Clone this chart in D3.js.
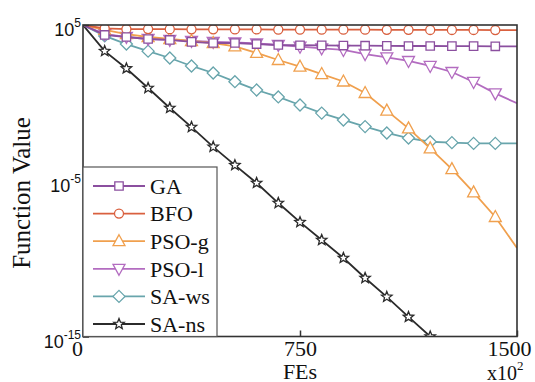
<!DOCTYPE html>
<html>
<head>
<meta charset="utf-8">
<script src="https://cdn.jsdelivr.net/npm/d3@7"></script>
<style>
  body { margin: 0; background: #fff; }
  svg { display: block; }
  .serif { font-family: "Liberation Serif", "Times New Roman", serif; }
  .sans { font-family: "Liberation Sans", Arial, sans-serif; }
</style>
</head>
<body>
<svg id="chart"></svg>
<script>
// FEs (x10^2), one sample every 75
const fes = [0, 75, 150, 225, 300, 375, 450, 525, 600, 675, 750, 825, 900, 975, 1050, 1125, 1200, 1275, 1350, 1425, 1500];

const gaVals = [1e5, 2.3e4, 1.7e4, 1.26e4, 1.1e4, 8.2e3, 7e3, 7e3, 6e3, 5.2e3, 5e3, 4.9e3, 4.8e3, 4.7e3, 4.6e3, 4.5e3, 4.5e3, 4.4e3, 4.4e3, 4.3e3, 4.3e3];
const bfoVals = [1e5, 6e4, 5.5e4, 5.5e4, 5.4e4, 5.3e4, 5.3e4, 5.2e4, 5.2e4, 5.1e4, 5.1e4, 5e4, 5e4, 5e4, 4.9e4, 4.9e4, 4.8e4, 4.8e4, 4.8e4, 4.7e4, 4.7e4];
const psogVals = [1e5, 4.8e4, 2.6e4, 1.7e4, 1.26e4, 9.4e3, 7e3, 4.2e3, 1.6e3, 565, 210, 71, 23.5, 4.3, 0.32, 0.023, 1.2e-3, 5.6e-5, 1.8e-6, 4.7e-8, 4.8e-10];
const psolVals = [1e5, 2.6e4, 1.7e4, 1.26e4, 1.1e4, 9.4e3, 8.2e3, 7.5e3, 6.5e3, 5.2e3, 4.05e3, 3.2e3, 2.5e3, 1.37e3, 840, 490, 234, 96, 22, 4.1, 0.94];
const saWsVals = [1e5, 2e4, 6e3, 2.1e3, 760, 234, 83, 23, 6.7, 2.4, 0.73, 0.22, 0.08, 0.03, 0.0117, 5.5e-3, 3.2e-3, 2.8e-3, 2.5e-3, 2.5e-3, 2.5e-3];
const saNsVals = [1e5, 2.1e3, 162, 9, 0.47, 0.028, 1.5e-3, 1e-4, 7.2e-6, 3.7e-7, 2.2e-8, 1.56e-9, 1.1e-10, 5.7e-12, 3.5e-13, 1.8e-14, 1e-15];

const seriesNames = ['GA', 'BFO', 'PSO-g', 'PSO-l', 'SA-ws', 'SA-ns'];
const xTicks = [0, 750, 1500];
const yTicks = [1e5, 1e-5, 1e-15];

const series = [
  { name: seriesNames[0], vals: gaVals, color: '#8b4f9f', shape: 'square' },
  { name: seriesNames[1], vals: bfoVals, color: '#d9603f', shape: 'circle' },
  { name: seriesNames[2], vals: psogVals, color: '#f0a04e', shape: 'triUp' },
  { name: seriesNames[3], vals: psolVals, color: '#b36cc0', shape: 'triDown' },
  { name: seriesNames[4], vals: saWsVals, color: '#68a5ac', shape: 'diamond' },
  { name: seriesNames[5], vals: saNsVals, color: '#2b2b2b', shape: 'star' }
];

const W = 535, H = 382;
const margin = { top: 25, right: 18, bottom: 45.5, left: 83 };

const svg = d3.select('#chart').attr('width', W).attr('height', H);

const x = d3.scaleLinear().domain([0, 1500]).range([margin.left, W - margin.right]);
const y = d3.scaleLog().domain([1e-15, 1e5]).range([H - margin.bottom, margin.top]);

svg.append('defs').append('clipPath').attr('id', 'plotclip')
  .append('rect')
  .attr('x', x(0)).attr('y', y(1e5))
  .attr('width', x(1500) - x(0)).attr('height', y(1e-15) - y(1e5));

function markerPath(shape) {
  if (shape === 'square') return 'M-4.2,-4.2H4.2V4.2H-4.2Z';
  if (shape === 'circle') return d3.symbol(d3.symbolCircle, 64)();
  if (shape === 'triUp') return 'M0,-6.5L6,4.5H-6Z';
  if (shape === 'triDown') return 'M0,6.5L6,-4.5H-6Z';
  if (shape === 'diamond') return 'M0,-6L6,0L0,6L-6,0Z';
  // star
  const pts = [];
  for (let i = 0; i < 10; i++) {
    const r = i % 2 === 0 ? 5.5 : 2.4;
    const a = -Math.PI / 2 + i * Math.PI / 5;
    pts.push([r * Math.cos(a), r * Math.sin(a)]);
  }
  return 'M' + pts.map(p => p[0].toFixed(2) + ',' + p[1].toFixed(2)).join('L') + 'Z';
}

const plot = svg.append('g').attr('clip-path', 'url(#plotclip)');

const line = d3.line()
  .x((d, i) => x(fes[i]))
  .y(d => y(d));

// draw in reverse so GA/BFO end on top like the original
[...series].reverse().forEach(s => {
  plot.append('path')
    .datum(s.vals)
    .attr('d', line)
    .attr('fill', 'none')
    .attr('stroke', s.color)
    .attr('stroke-width', 1.8);

  const pts = s.vals.map((v, i) => ({ fe: fes[i], v })).filter(d => d.fe > 0 && d.fe < 1500);
  plot.selectAll(null)
    .data(pts)
    .join('path')
    .attr('transform', d => `translate(${x(d.fe)},${y(d.v)})`)
    .attr('d', markerPath(s.shape))
    .attr('fill', '#fff')
    .attr('stroke', s.color)
    .attr('stroke-width', 1.3);
});

// axes box
svg.append('rect')
  .attr('x', x(0)).attr('y', y(1e5))
  .attr('width', x(1500) - x(0)).attr('height', y(1e-15) - y(1e5))
  .attr('fill', 'none')
  .attr('stroke', '#333')
  .attr('stroke-width', 1.6);

// x axis (inward ticks)
const xAxis = svg.append('g')
  .attr('transform', `translate(0,${y(1e-15)})`)
  .call(d3.axisBottom(x).tickValues(xTicks).tickSize(-6).tickPadding(4).tickSizeOuter(0));
xAxis.select('.domain').remove();
xAxis.selectAll('line').attr('stroke', '#333').attr('stroke-width', 1.5);
xAxis.selectAll('text')
  .attr('class', 'serif')
  .style('font-size', '22px')
  .attr('fill', '#111')
  .attr('dx', d => d === 0 ? -6 : d === 1500 ? -8 : 0)
  .text(d => d);

// y axis (inward ticks) with power-of-ten labels
const yAxis = svg.append('g')
  .attr('transform', `translate(${x(0)},0)`)
  .call(d3.axisLeft(y).tickValues(yTicks).tickSize(-6).tickFormat(() => '').tickSizeOuter(0));
yAxis.select('.domain').remove();
yAxis.selectAll('line').attr('stroke', '#333').attr('stroke-width', 1.5);

const yLab = svg.append('g').selectAll('text')
  .data(yTicks)
  .join('text')
  .attr('class', 'sans')
  .attr('x', 81)
  .attr('y', d => y(d) + 11)
  .attr('text-anchor', 'end')
  .attr('fill', '#111')
  .style('font-size', '18px');
yLab.append('tspan').text('10');
yLab.append('tspan')
  .attr('dy', -9)
  .style('font-size', '12px')
  .text(d => Math.round(Math.log10(d)));

// axis titles
svg.append('text')
  .attr('class', 'serif')
  .attr('x', x(750))
  .attr('y', 379)
  .attr('text-anchor', 'middle')
  .style('font-size', '22px')
  .attr('fill', '#111')
  .text('FEs');

const mult = svg.append('text')
  .attr('class', 'serif')
  .attr('x', 487)
  .attr('y', 380)
  .style('font-size', '20px')
  .attr('fill', '#111');
mult.append('tspan').text('x10');
mult.append('tspan').attr('dy', -10).style('font-size', '13px').text('2');

svg.append('text')
  .attr('class', 'serif')
  .attr('transform', `translate(30,193) rotate(-90)`)
  .attr('text-anchor', 'middle')
  .style('font-size', '25px')
  .attr('fill', '#111')
  .text('Function Value');

// legend
const legend = svg.append('g');
legend.append('rect')
  .attr('x', x(0)).attr('y', 167)
  .attr('width', 134).attr('height', y(1e-15) - 167)
  .attr('fill', '#fff')
  .attr('stroke', '#555')
  .attr('stroke-width', 1.2);

const item = legend.selectAll('g.item')
  .data(series)
  .join('g')
  .attr('class', 'item')
  .attr('transform', (d, i) => `translate(0,${186 + i * 27.6})`);

item.append('line')
  .attr('x1', 93).attr('x2', 145)
  .attr('stroke', d => d.color)
  .attr('stroke-width', 1.8);
item.append('path')
  .attr('transform', 'translate(119,0)')
  .attr('d', d => markerPath(d.shape))
  .attr('fill', '#fff')
  .attr('stroke', d => d.color)
  .attr('stroke-width', 1.3);
item.append('text')
  .attr('class', 'serif')
  .attr('x', 150)
  .attr('y', 0)
  .attr('dy', '0.35em')
  .style('font-size', '22px')
  .attr('fill', '#111')
  .text(d => d.name);
</script>
</body>
</html>
